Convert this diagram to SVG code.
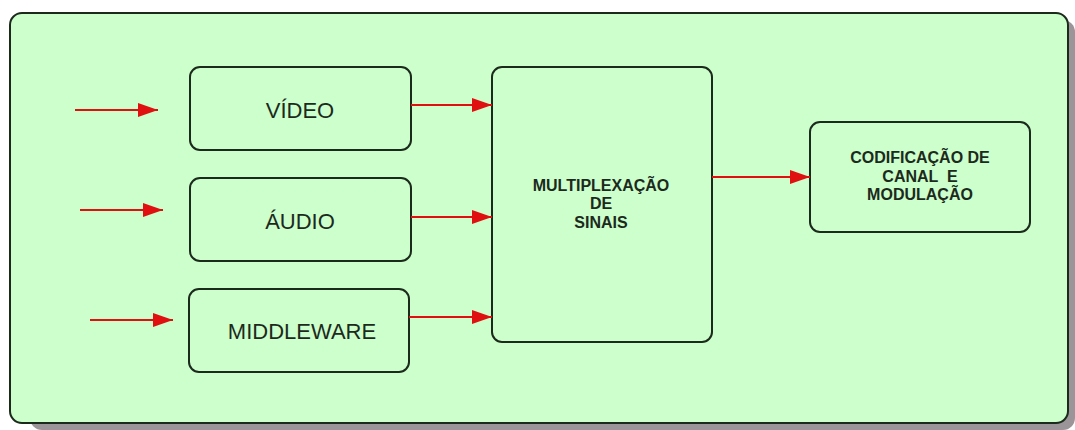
<svg xmlns="http://www.w3.org/2000/svg" width="1075" height="430" viewBox="0 0 1075 430">
  <style>
    .frame { fill: #ccffcc; stroke: #1c2a1c; stroke-width: 2; }
    .box { fill: #ccffcc; stroke: #1c2a1c; stroke-width: 2; }
    .label { font-family: "Liberation Sans", Arial, sans-serif; font-size: 22px; fill: #1c2a1c; text-anchor: middle; }
    .bold { font-family: "Liberation Sans", Arial, sans-serif; font-size: 16px; font-weight: bold; fill: #1c2a1c; text-anchor: middle; white-space: pre; }
    .wire { stroke: #e01010; stroke-width: 2.2; fill: none; marker-end: url(#head); }
  </style>
  <defs>
    <marker id="head" viewBox="0 0 20 14" refX="20" refY="7" markerWidth="20" markerHeight="14" markerUnits="userSpaceOnUse" orient="auto">
      <path d="M0,0 L20,7 L0,14 Z" fill="#e01010"/>
    </marker>
  </defs>

  <rect width="1075" height="430" fill="#ffffff"/>

  <!-- drop shadow and outer panel -->
  <rect x="30" y="20" width="1045" height="410" rx="12" fill="#9b9498"/>
  <rect id="panel" class="frame" x="10" y="13" width="1058" height="410" rx="12"/>

  <g id="video">
    <rect class="box" x="190" y="67" width="221" height="83" rx="10"/>
    <text class="label" x="300" y="118">VÍDEO</text>
  </g>
  <g id="audio">
    <rect class="box" x="190" y="178" width="221" height="83" rx="10"/>
    <text class="label" x="300" y="229">ÁUDIO</text>
  </g>
  <g id="middleware">
    <rect class="box" x="189" y="289" width="220" height="83" rx="10"/>
    <text class="label" x="302" y="339">MIDDLEWARE</text>
  </g>
  <g id="mux">
    <rect class="box" x="492" y="67" width="220" height="275" rx="10"/>
    <text class="bold" x="601" y="191">MULTIPLEXAÇÃO</text>
    <text class="bold" x="601" y="209">DE</text>
    <text class="bold" x="601" y="228">SINAIS</text>
  </g>
  <g id="codif">
    <rect class="box" x="810" y="122" width="220" height="110" rx="10"/>
    <text class="bold" x="920" y="163">CODIFICAÇÃO DE</text>
    <text class="bold" x="920" y="182" xml:space="preserve">CANAL  E</text>
    <text class="bold" x="920" y="200">MODULAÇÃO</text>
  </g>

  <g id="connectors">
    <line class="wire" x1="75" y1="110" x2="158" y2="110"/>
    <line class="wire" x1="80" y1="210" x2="163" y2="210"/>
    <line class="wire" x1="90" y1="320" x2="173" y2="320"/>
    <line class="wire" x1="411" y1="105" x2="492" y2="105"/>
    <line class="wire" x1="411" y1="217" x2="492" y2="217"/>
    <line class="wire" x1="409" y1="317" x2="492" y2="317"/>
    <line class="wire" x1="712" y1="177" x2="810" y2="177"/>
  </g>
</svg>
